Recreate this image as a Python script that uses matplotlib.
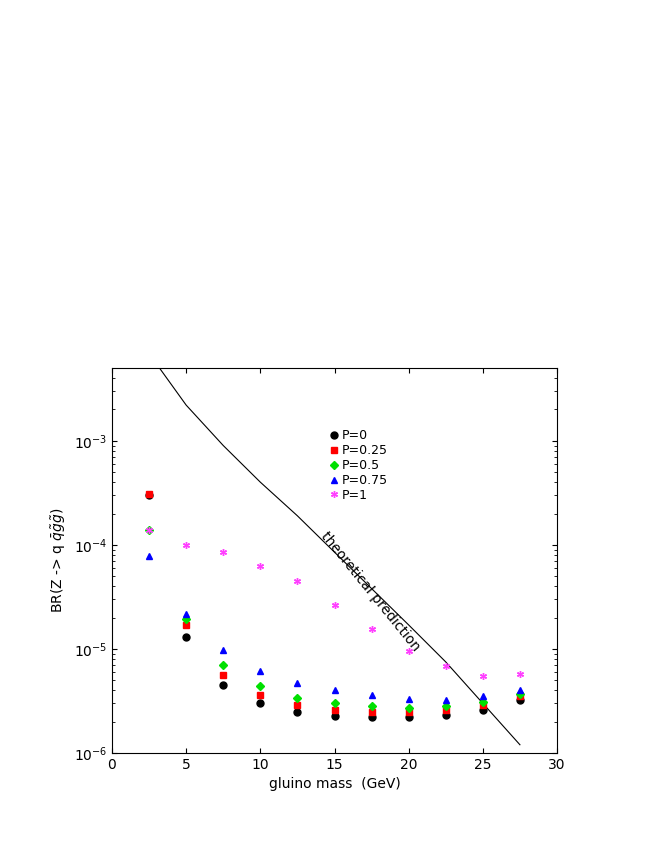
import matplotlib
matplotlib.use('Agg')
import matplotlib.pyplot as plt

### Data
mass = [2.5, 5, 7.5, 10, 12.5, 15, 17.5, 20, 22.5, 25, 27.5]
br_p0 = [3.0e-4, 1.3e-5, 4.5e-6, 3.0e-6, 2.5e-6, 2.25e-6, 2.2e-6, 2.2e-6, 2.3e-6, 2.6e-6, 3.2e-6]
br_p025 = [3.1e-4, 1.7e-5, 5.6e-6, 3.6e-6, 2.9e-6, 2.6e-6, 2.5e-6, 2.5e-6, 2.6e-6, 2.9e-6, 3.5e-6]
br_p05 = [1.4e-4, 1.95e-5, 7.0e-6, 4.4e-6, 3.4e-6, 3.0e-6, 2.8e-6, 2.7e-6, 2.8e-6, 3.1e-6, 3.7e-6]
br_p075 = [7.8e-5, 2.15e-5, 9.7e-6, 6.2e-6, 4.7e-6, 4.0e-6, 3.6e-6, 3.3e-6, 3.2e-6, 3.5e-6, 4.0e-6]
br_p1 = [1.4e-4, 1.0e-4, 8.5e-5, 6.3e-5, 4.5e-5, 2.65e-5, 1.55e-5, 9.5e-6, 6.8e-6, 5.5e-6, 5.8e-6]

theory_mass = [3.2, 5, 7.5, 10, 12.5, 15, 17.5, 20, 22.5, 25, 27.5]
theory_br = [5.0e-3, 2.2e-3, 9.0e-4, 4.0e-4, 1.9e-4, 8.5e-5, 3.8e-5, 1.7e-5, 7.5e-6, 3.0e-6, 1.2e-6]

### Chart
fig = plt.figure(figsize=(6.64, 8.60), dpi=100)
ax = fig.add_axes([112 / 664, 1 - 753 / 860, 445 / 664, 385 / 860])

ax.plot(theory_mass, theory_br, color='black', lw=0.8)
ax.plot(mass, br_p0, 'o', color='black', ms=5, label='P=0')
ax.plot(mass, br_p025, 's', color='red', ms=4.5, label='P=0.25')
ax.plot(mass, br_p05, 'D', color='#00e000', ms=4, label='P=0.5')
ax.plot(mass, br_p075, '^', color='blue', ms=5, label='P=0.75')
ax.plot(mass, br_p1, marker=(6, 2, 0), ls='none', color='#ff40ff', ms=5, mew=1, label='P=1')

ax.set_yscale('log')
ax.set_xlim(0, 30)
ax.set_ylim(1e-6, 5e-3)
ax.set_xticks(range(0, 31, 5))
ax.tick_params(which='both', direction='in', top=True, right=True)
ax.set_xlabel('gluino mass  (GeV)')
ax.set_ylabel(r'BR(Z -> q $\bar{q}\tilde{g}\tilde{g}$)')

ax.text(17.4, 3.6e-5, 'theoretical prediction', rotation=-51, ha='center', va='center', fontsize=10)
ax.legend(loc='upper left', bbox_to_anchor=(0.46, 0.87), frameon=False, handletextpad=0.1,
          labelspacing=0.15, fontsize=9, handlelength=1)

fig.savefig('out.png')
